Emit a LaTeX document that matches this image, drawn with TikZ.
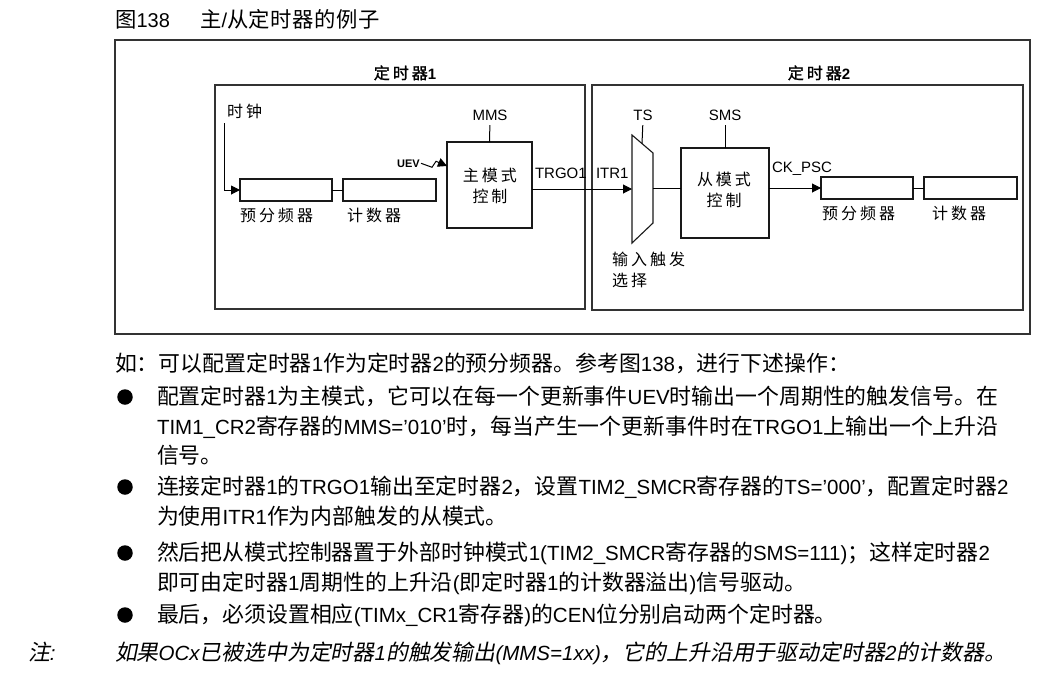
\documentclass[tikz,border=0pt]{standalone}
\usepackage{fontspec}
\setmainfont{Liberation Sans}
\newfontfamily\cjkfont{Noto Sans CJK SC}[Scale=1.067,AutoFakeSlant=0.2,AutoFakeBold=1.5]
\usetikzlibrary{arrows.meta}
% automatic switching between Latin and CJK fonts
\XeTeXinterchartokenstate=1
\chardef\CJKcls=7
\newcount\cjkc
\newdimen\cjkgap
\def\setcjkrange#1#2{\cjkc=#1\relax\loop\XeTeXcharclass\cjkc=\CJKcls\relax\advance\cjkc by 1\relax\ifnum\cjkc<#2\relax\repeat}
\setcjkrange{"3000}{"3040}
\setcjkrange{"4E00}{"A000}
\setcjkrange{"FF00}{"FFF0}
\XeTeXinterchartoks 0 \CJKcls = {\cjkfont}
\XeTeXinterchartoks 4095 \CJKcls = {\cjkfont}
\XeTeXinterchartoks \CJKcls 0 = {\rmfamily}
\XeTeXinterchartoks \CJKcls \CJKcls = {\kern\cjkgap}
\newcommand\txtfont{\fontsize{20.5}{24}\selectfont\cjkgap=0pt\relax}
\newcommand\diafont{\fontsize{15}{18}\selectfont\cjkgap=3pt\relax}
\newcommand\ttlfont{\fontsize{20}{24}\selectfont\cjkgap=0.5pt\relax}
\newcommand\uevfont{\fontsize{11}{13}\selectfont\bfseries}
\begin{document}
\begin{tikzpicture}[x=1pt,y=-1pt,
  frame/.style={draw=black!80,line width=1.3pt,inner sep=0,outer sep=0},
  blk/.style={draw=black!90,line width=1.1pt,inner sep=0,outer sep=0},
  wire/.style={draw=black,line width=1pt},
  arr/.style={wire,-{Triangle[length=9pt,width=9pt]}},
  lbl/.style={inner sep=0,outer sep=0,anchor=base,font=\diafont},
  lblw/.style={inner sep=0,outer sep=0,anchor=base west,font=\diafont},
  txt/.style={inner sep=0,outer sep=0,anchor=base west,font=\txtfont},
  bul/.style={fill=black,circle,inner sep=0,minimum size=15.5pt}]
\useasboundingbox (0,0) rectangle (1044,673);
\fill[white] (0,0) rectangle (1044,673);
% title
\node[inner sep=0,anchor=base west,font=\ttlfont] (fig) at (115,27) {图138};
\node[inner sep=0,anchor=base west,font=\ttlfont] (ttl) at (200,27) {主/从定时器的例子};
% frames
\node[frame,minimum width=915pt,minimum height=294pt] (outer) at (572.5,187) {};
\node[frame,minimum width=370pt,minimum height=224pt] (tim1) at (400,197) {};
\node[frame,minimum width=431pt,minimum height=225pt] (tim2) at (807.5,197.5) {};
\node[lbl,font=\diafont\bfseries] (t1lbl) at (405,79) {定时器1};
\node[lbl,font=\diafont\bfseries] (t2lbl) at (819,79) {定时器2};
% timer 1
\node[lblw] (clk) at (227,117) {时钟};
\coordinate (clkin) at (224,123);
\node[blk,minimum width=92pt,minimum height=22pt] (psc1) at (286,190) {};
\node[blk,minimum width=93pt,minimum height=22pt] (cnt1) at (389.5,190) {};
\node[lblw] (psc1l) at (240,221) {预分频器};
\node[lblw] (cnt1l) at (347,221) {计数器};
\node[blk,minimum width=85pt,minimum height=86pt] (master) at (489.5,185) {};
\node[lbl] (m1) at (490,181) {主模式};
\node[lbl] (m2) at (490,202) {控制};
\node[lbl] (mms) at (490,120) {MMS};
\node[inner sep=0,anchor=base west,font=\uevfont] (uev) at (397,167) {UEV};
\coordinate (uevin) at (447,166);
\node[lblw] (trgo) at (535,178) {TRGO1};
\draw[arr] (clkin) |- (psc1.west);
\draw[wire] (psc1.east) -- (cnt1.west);
\draw[wire,shorten >=5pt] (master.north) -- (mms.south);
\draw[arr] ([xshift=1pt]uev.east) -- ++(11,4) -- ++(4,-6) -- (uevin);
% timer 2
\coordinate (mtl) at (632,135);
\coordinate (mtr) at (653,153);
\coordinate (mbr) at (653,223);
\coordinate (mbl) at (632,243);
\coordinate (muxin) at (632,189);
\coordinate (muxout) at (653,188);
\coordinate (tsb) at (642,143.6);
\draw[blk] (mtl) -- (mtr) -- (mbr) -- (mbl) -- cycle;
\node[lbl] (ts) at (643,120) {TS};
\node[lblw] (itr) at (596,178) {ITR1};
\node[lblw] (sel1) at (612,265) {输入触发};
\node[lblw] (sel2) at (612,286) {选择};
\node[blk,minimum width=88pt,minimum height=90pt] (slave) at (725,193) {};
\node[lbl] (s1) at (724,185.5) {从模式};
\node[lbl] (s2) at (724,206.5) {控制};
\node[lbl] (sms) at (725,120) {SMS};
\node[lblw] (ckpsc) at (772,172) {CK\_PSC};
\node[blk,minimum width=92pt,minimum height=22pt] (psc2) at (867,188) {};
\node[blk,minimum width=93pt,minimum height=22pt] (cnt2) at (970.5,188) {};
\node[lblw] (psc2l) at (822,219) {预分频器};
\node[lblw] (cnt2l) at (932,219) {计数器};
\draw[arr] (master.east |- muxin) -- (muxin);
\draw[wire,shorten >=5pt] (tsb) -- (ts.south);
\draw[wire] (muxout) -- (slave.west |- muxout);
\draw[wire,shorten >=5pt] (slave.north) -- (sms.south);
\draw[arr] (slave.east |- psc2.west) -- (psc2.west);
\draw[wire] (psc2.east) -- (cnt2.west);
% text
\node[txt] (l0) at (115,371) {如：可以配置定时器1作为定时器2的预分频器。参考图138，进行下述操作：};
\node[bul] (b1) at (125,397) {};
\node[txt] (l1a) at (157,404) {配置定时器1为主模式，它可以在每一个更新事件UEV时输出一个周期性的触发信号。在};
\node[txt] (l1b) at (157,434) {TIM1\_CR2寄存器的MMS='010'时，每当产生一个更新事件时在TRGO1上输出一个上升沿};
\node[txt] (l1c) at (157,463) {信号。};
\node[bul] (b2) at (125,487) {};
\node[txt] (l2a) at (157,494) {连接定时器1的TRGO1输出至定时器2，设置TIM2\_SMCR寄存器的TS='000'，配置定时器2};
\node[txt] (l2b) at (157,524) {为使用ITR1作为内部触发的从模式。};
\node[bul] (b3) at (125,553) {};
\node[txt] (l3a) at (157,560) {然后把从模式控制器置于外部时钟模式1(TIM2\_SMCR寄存器的SMS=111)；这样定时器2};
\node[txt] (l3b) at (157,590) {即可由定时器1周期性的上升沿(即定时器1的计数器溢出)信号驱动。};
\node[bul] (b4) at (125,615) {};
\node[txt] (l4) at (157,622) {最后，必须设置相应(TIMx\_CR1寄存器)的CEN位分别启动两个定时器。};
\node[txt,font=\txtfont\itshape] (n0) at (28,660) {注:};
\node[txt,font=\txtfont\itshape] (n1) at (115,660) {如果OCx已被选中为定时器1的触发输出(MMS=1xx)，它的上升沿用于驱动定时器2的计数器。};
\end{tikzpicture}
\end{document}
